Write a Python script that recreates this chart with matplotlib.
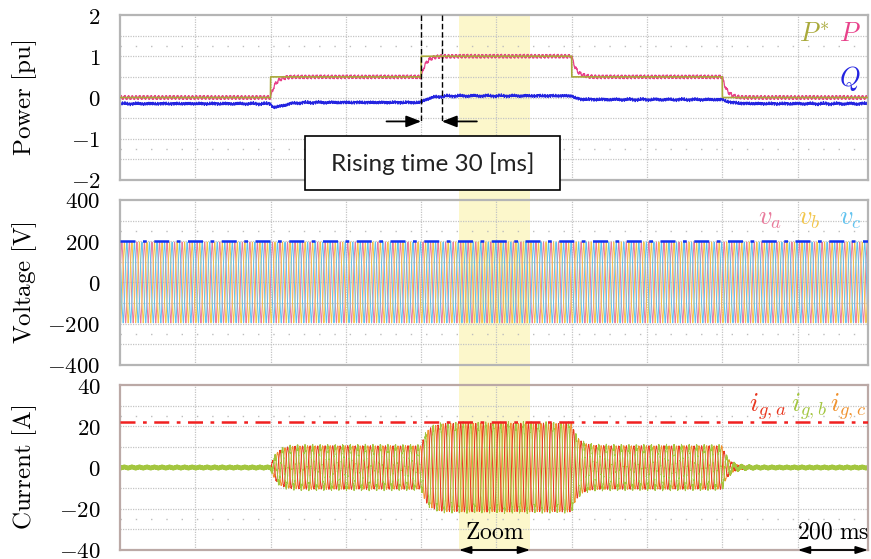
import numpy as np
import matplotlib
matplotlib.use('Agg')
import matplotlib.pyplot as plt
from matplotlib.patches import Rectangle
from matplotlib import transforms

plt.rcParams['mathtext.fontset'] = 'cm'
plt.rcParams['font.family'] = ['DejaVu Serif']

# values
step_times = [0.4, 0.8, 1.2, 1.6]
p_ref_levels = [0.0, 0.5, 1.0, 0.5, 0.0]
q_levels = [-0.15, -0.12, 0.04, -0.05, -0.15]
q_kicks = [-0.10, 0.0, -0.02, 0.0]
i_peak_levels = [0.25, 10.3, 21.3, 10.3, 0.25]
v_peak = 184
v_limit = 200
i_limit = 22.3
grid_freq = 50
t_end = 1.987
zoom_window = [0.9, 1.09]
rise_marks = [0.8, 0.855]

power_ticks = [-2, -1, 0, 1, 2]
voltage_ticks = [-400, -200, 0, 200, 400]
current_ticks = [-40, -20, 0, 20, 40]

t = np.arange(0, t_end, 2.5e-4)


def staircase(levels):
    idx = np.searchsorted(step_times, t, side='right')
    return np.asarray(levels)[idx]


def lag(levels, tau):
    y = np.full_like(t, levels[0], dtype=float)
    for k, tk in enumerate(step_times):
        on = t >= tk
        y[on] += (levels[k + 1] - levels[k]) * (1 - np.exp(-(t[on] - tk) / tau))
    return y


w = 2 * np.pi * grid_freq
p_ref = staircase(p_ref_levels)
p_meas = lag(p_ref_levels, 0.012) + 0.035 * np.sin(2 * w * t) + 0.015 * np.sin(6 * w * t + 0.4) \
    + 0.01 * np.sin(2 * np.pi * 613 * t)
q_meas = lag(q_levels, 0.022)
for k, tk in enumerate(step_times):
    on = t >= tk
    s = (t[on] - tk) / 0.015
    q_meas[on] += q_kicks[k] * s * np.exp(1 - s)
q_meas += 0.016 * np.sin(2 * np.pi * 173 * t) + 0.014 * np.sin(2 * np.pi * 311 * t + 1.0) \
    + 0.012 * np.sin(2 * np.pi * 457 * t + 2.0) + 0.008 * np.sin(2 * np.pi * 29 * t)

phases = [0, -2 * np.pi / 3, 2 * np.pi / 3]
v_abc = [v_peak * np.sin(w * t + ph) + 12 * np.sin(5 * (w * t + ph)) for ph in phases]
i_env = lag(i_peak_levels, 0.016)
i_noise = [0.3, 1.0, 0.3]
i_abc = [i_env * np.sin(w * t + ph) + a * np.sin(2 * np.pi * 731 * t + 3 * ph)
         for ph, a in zip(phases, i_noise)]

fig = plt.figure(figsize=(8.71, 5.59), dpi=100)
W, H = 871, 559


def add_ax(top_px):
    return fig.add_axes([120 / W, 1 - (top_px + 165) / H, 748 / W, 165 / H], facecolor='none')


ax1 = add_ax(15)
ax2 = add_ax(200)
ax3 = add_ax(385)

grid_c = '#c4c4c4'
panels = [
    (ax1, 2, power_ticks, r'$\mathrm{Power\ [pu]}$', '#b5b5b5'),
    (ax2, 400, voltage_ticks, r'$\mathrm{Voltage\ [V]}$', '#b5b5b5'),
    (ax3, 40, current_ticks, r'$\mathrm{Current\ [A]}$', '#bba9a6'),
]
for ax, lim, ticks, label, frame in panels:
    ax.set_xlim(0, t_end)
    ax.set_ylim(-lim, lim)
    ax.set_xticks(np.arange(0.2, t_end, 0.2))
    ax.set_xticklabels([])
    ax.set_yticks(ticks)
    ax.set_yticklabels([f'${v}$' for v in ticks], fontsize=16.5)
    ax.tick_params(length=0, pad=14)
    for xv in np.arange(0.2, t_end, 0.2):
        ax.axvline(xv, color=grid_c, lw=0.9, ls=(0, (1, 1)), zorder=0)
    for yv in np.linspace(-lim, lim, 9)[1:-1]:
        ax.axhline(yv, color=grid_c, lw=0.9, ls=(0, (1, 1)), zorder=0)
    for yv in (-0.625 * lim, 0.625 * lim):
        ax.axhline(yv, color='#bdbdbd', lw=1.0, ls=(0, (1, 10)), zorder=0)
    for sp in ax.spines.values():
        sp.set_color(frame)
        sp.set_linewidth(1.6)
    ax.set_ylabel(label, fontsize=18)
    ax.yaxis.set_label_coords(-0.108, 0.5)

# zoom window band spanning all panels
band_tr = transforms.blended_transform_factory(ax3.transData, fig.transFigure)
fig.add_artist(Rectangle((zoom_window[0], 1 - 550 / H), zoom_window[1] - zoom_window[0],
                         535 / H, transform=band_tr, facecolor='#fcf7cb', edgecolor='none',
                         zorder=-1))

# power
ax1.plot(t, p_ref, color='#a9a93a', lw=1.2, zorder=3)
ax1.plot(t, p_meas, color='#e8418a', lw=0.9, zorder=2)
ax1.plot(t, q_meas, color='#2424e0', lw=1.0, zorder=2)
ax1.text(0.928, 0.89, r'$P^{*}$', color='#a9a93a', fontsize=19, transform=ax1.transAxes,
         ha='center', va='center')
ax1.text(0.976, 0.89, r'$P$', color='#e8418a', fontsize=19, transform=ax1.transAxes,
         ha='center', va='center')
ax1.text(0.975, 0.615, r'$Q$', color='#2424e0', fontsize=19, transform=ax1.transAxes,
         ha='center', va='center')

# rising time markers
for xm in rise_marks:
    ax1.plot([xm, xm], [2, -0.58], color='black', lw=1.0, ls=(0, (4, 2)), zorder=4)
arrow_kw = dict(arrowstyle='-|>,head_length=0.9,head_width=0.35', color='black', lw=1.3,
                shrinkA=0, shrinkB=0)
ax1.annotate('', xy=(rise_marks[0], -0.58), xytext=(0.708, -0.58), arrowprops=arrow_kw)
ax1.annotate('', xy=(rise_marks[1], -0.58), xytext=(0.948, -0.58), arrowprops=arrow_kw)
ax1.add_patch(Rectangle((0.4915, -2.24), 1.1688 - 0.4915, 2.24 - 0.945, facecolor='white',
                        edgecolor='black', lw=1.2, clip_on=False, zorder=6))
ax1.text(0.8302, -1.6, 'Rising time 30 [ms]', fontsize=17.5, family='Lato', ha='center',
         va='center', zorder=7, clip_on=False, color='#222222')

# voltage
v_cols = ['#e97b9c', '#f2c64c', '#62c3ef']
for v, c in zip(v_abc, v_cols):
    ax2.plot(t, v, color=c, lw=0.7, zorder=2)
ax2.axhline(v_limit, color='#1030f0', lw=1.8, ls=(0, (6, 3, 1.5, 3)), zorder=3)
for x, name, c in zip([0.869, 0.921, 0.977], ['a', 'b', 'c'], v_cols):
    ax2.text(x, 0.89, rf'$v_{name}$', color=c, fontsize=19, transform=ax2.transAxes,
             ha='center', va='center')

# current
i_cols = ['#e8361f', '#a3c63f', '#f0922e']
for k in [2, 0, 1]:
    ax3.plot(t, i_abc[k], color=i_cols[k], lw=0.7, zorder=2)
ax3.axhline(i_limit, color='#f02020', lw=1.8, ls=(0, (6, 3, 1.5, 3)), zorder=3)
for x, name, c in zip([0.866, 0.921, 0.973], ['a', 'b', 'c'], i_cols):
    ax3.text(x, 0.865, rf'$i_{{g,{name}}}$', color=c, fontsize=19, transform=ax3.transAxes,
             ha='center', va='center')

both_kw = dict(arrowstyle='<|-|>,head_length=0.7,head_width=0.22', color='black',
               lw=1.3, shrinkA=0, shrinkB=0)
ax3.annotate('', xy=(zoom_window[0], -40), xytext=(zoom_window[1], -40), annotation_clip=False,
             arrowprops=both_kw)
ax3.text(sum(zoom_window) / 2, -31.5, r'$\mathrm{Zoom}$', fontsize=17, ha='center', va='center')
ax3.annotate('', xy=(1.8, -40), xytext=(t_end, -40), annotation_clip=False, arrowprops=both_kw)
ax3.text((1.8 + t_end) / 2, -31.5, r'$\mathrm{200\ ms}$', fontsize=17, ha='center', va='center')

fig.savefig('out.png', dpi=100)
